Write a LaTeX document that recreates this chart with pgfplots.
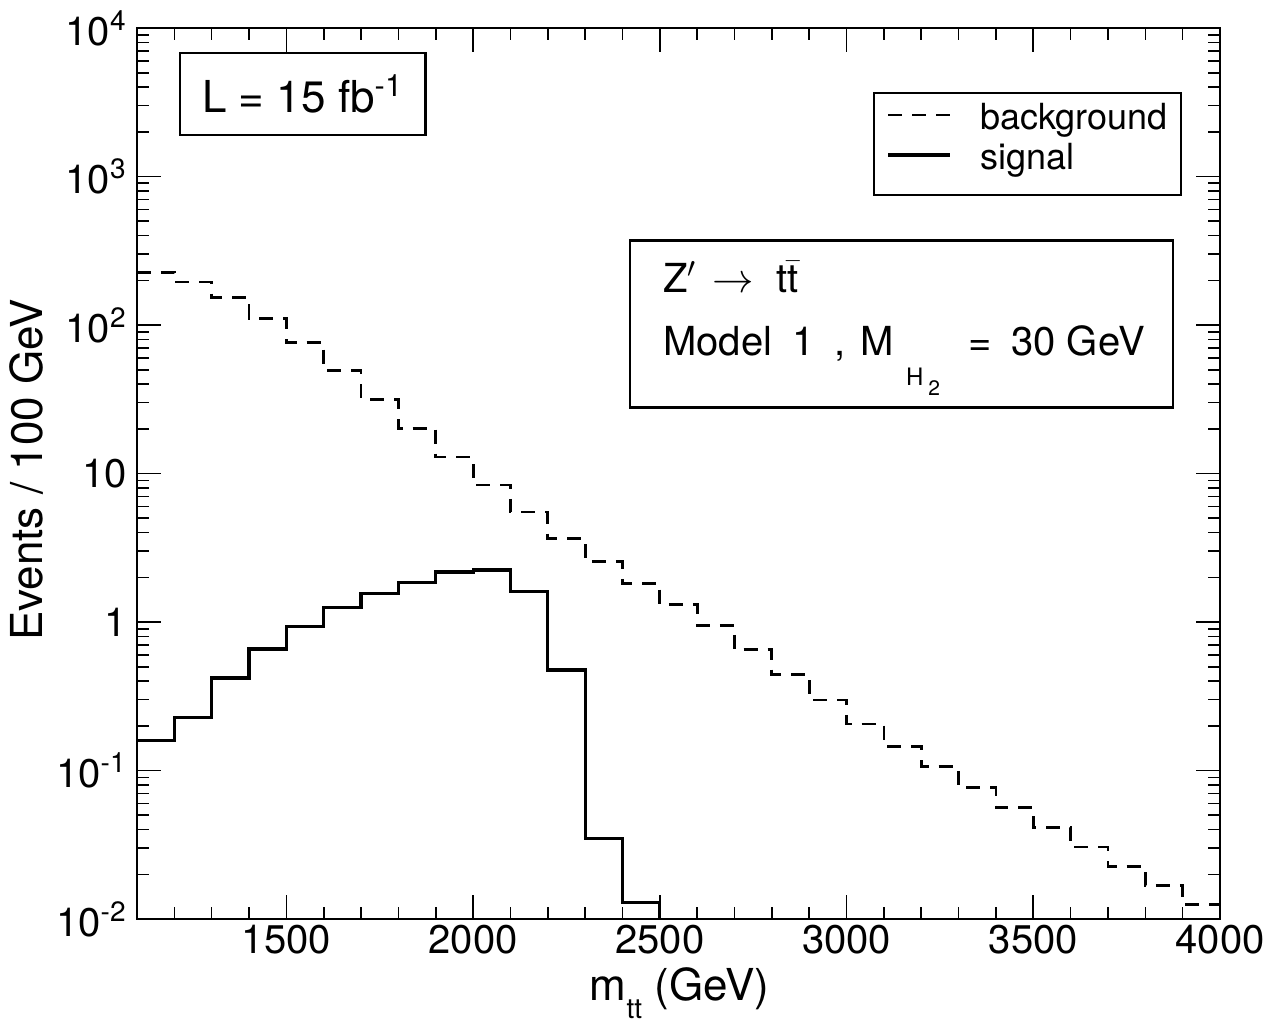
\documentclass[border=0pt]{standalone}
\usepackage{fontspec}
\setmainfont{TeX Gyre Heros}
\usepackage{pgfplots}
\usepackage{pgfplotstable}
\pgfplotsset{compat=1.18}

% events per 100 GeV bin, left bin edge (GeV)
\pgfplotstableread{
x y
1100 226
1200 195
1300 154
1400 111
1500 76
1600 49.5
1700 31.6
1800 20.0
1900 12.9
2000 8.37
2100 5.50
2200 3.66
2300 2.55
2400 1.82
2500 1.31
2600 0.945
2700 0.650
2800 0.445
2900 0.298
3000 0.206
3100 0.146
3200 0.106
3300 0.077
3400 0.0565
3500 0.0414
3600 0.0305
3700 0.0225
3800 0.0168
3900 0.0126
4000 0.0126
}\bkgtable

\pgfplotstableread{
x y
1100 0.160
1200 0.227
1300 0.420
1400 0.658
1500 0.935
1600 1.25
1700 1.56
1800 1.85
1900 2.17
2000 2.24
2100 1.60
2200 0.475
2300 0.035
2400 0.0129
2500 0.001
}\sigtable

\begin{document}
\begin{tikzpicture}
\begin{axis}[
  name=ax,
  scale only axis,
  width=541.5pt, height=445.5pt,
  xmin=1100, xmax=4000,
  ymode=log, ymin=1e-2, ymax=1e4,
  xtick={1500,2000,2500,3000,3500,4000},
  minor xtick={1200,1300,1400,1600,1700,1800,1900,2100,2200,2300,2400,2600,2700,2800,2900,3100,3200,3300,3400,3600,3700,3800,3900},
  ytick={1e-2,1e-1,1,10,100,1000,10000},
  yticklabels={10\textsuperscript{-2},10\textsuperscript{-1},1,10,10\textsuperscript{2},10\textsuperscript{3},10\textsuperscript{4}},
  minor ytick={0.02,0.03,0.04,0.05,0.06,0.07,0.08,0.09,
               0.2,0.3,0.4,0.5,0.6,0.7,0.8,0.9,
               2,3,4,5,6,7,8,9,
               20,30,40,50,60,70,80,90,
               200,300,400,500,600,700,800,900,
               2000,3000,4000,5000,6000,7000,8000,9000},
  scaled x ticks=false,
  /pgf/number format/1000 sep={},
  /pgf/number format/assume math mode=true,
  tick pos=both,
  tick align=inside,
  major tick length=12pt,
  minor tick length=6pt,
  tick style={black, line width=0.8pt},
  axis line style={line width=1.2pt},
  tick label style={font=\fontsize{20}{24}\selectfont},
  xticklabel style={inner sep=1pt, yshift=-2pt},
  yticklabel style={inner sep=1pt, xshift=-4pt},
  xlabel={m\raisebox{-9pt}{\fontsize{14}{14}\selectfont tt} (GeV)},
  ylabel={Events / 100 GeV},
  xlabel style={font=\fontsize{22}{26}\selectfont, at={(axis description cs:0.501,-0.0909)}, anchor=base},
  ylabel style={font=\fontsize{22}{26}\selectfont, at={(axis description cs:-0.0877,0.504)}, anchor=base, rotate=0},
  legend style={at={(axis description cs:0.822,0.8698)}, anchor=center,
    draw=black, line width=0.9pt, fill=white,
    font=\fontsize{18}{20}\selectfont,
    inner xsep=6.5pt, inner ysep=5.5pt, row sep=0pt,
    nodes={inner sep=0pt, text height=12.5pt, text depth=7.5pt}},
  legend cell align=left,
  legend image code/.code={\draw[#1] (0pt,4.5pt) -- (31pt,4.5pt);},
  /tikz/every odd column/.append style={column sep=14pt},
]
\addplot[const plot mark left, black, line width=1.4pt, dash pattern=on 7pt off 5pt]
  table[x=x, y=y] {\bkgtable};
\addlegendentry{background}
\addplot[const plot mark left, black, line width=1.6pt]
  table[x=x, y=y] {\sigtable};
\addlegendentry{signal}

\node[draw=black, line width=1.3pt, minimum width=122.5pt, minimum height=41pt,
      font=\fontsize{22}{26}\selectfont]
  at (axis description cs:0.153,0.926) {L = 15 fb\textsuperscript{-1}};

\node[draw=black, line width=1.3pt, minimum width=271.5pt, minimum height=83.5pt]
  at (axis description cs:0.706,0.668) {};
\node[anchor=base west, inner sep=0pt, font=\fontsize{20}{24}\selectfont]
  at (axis description cs:0.4857,0.7026)
  {Z$'$\hspace{8pt}$\rightarrow$\hspace{11pt}t\ensuremath{\bar{\hbox{t}}}};
\node[anchor=base west, inner sep=0pt, font=\fontsize{20}{24}\selectfont]
  at (axis description cs:0.4857,0.633)
  {Model\hspace{10pt}1\hspace{10pt},\hspace{7.5pt}M\hspace{6pt}\raisebox{-15pt}{\fontsize{12}{12}\selectfont H\hspace{2.5pt}\raisebox{-5pt}{\fontsize{10.5}{10.5}\selectfont 2}}\hspace{14pt}=\hspace{10pt}30 GeV};
\end{axis}
\pgfresetboundingbox
\path[use as bounding box] ([xshift=-68.5pt,yshift=-57.5pt]ax.south west)
  rectangle ([xshift=25.5pt,yshift=14pt]ax.north east);
\end{tikzpicture}
\end{document}
